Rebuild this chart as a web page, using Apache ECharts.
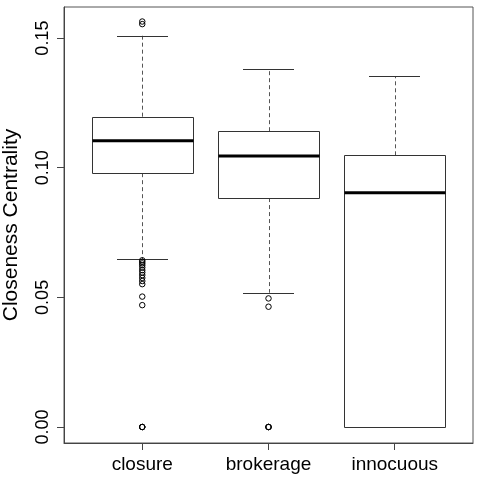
<!DOCTYPE html>
<html>
<head>
<meta charset="utf-8">
<script src="https://cdn.jsdelivr.net/npm/echarts@6/dist/echarts.min.js"></script>
<style>html,body{margin:0;padding:0;background:#fff}#c{width:480px;height:480px}</style>
</head>
<body>
<div id="c"></div>
<script>
const categories = ['closure', 'brokerage', 'innocuous'];
const whiskerLow = [0.0647, 0.0518, 0.0];
const q1 = [0.0979, 0.0883, 0.0];
const median = [0.1104, 0.1045, 0.0904];
const q3 = [0.1197, 0.1141, 0.1048];
const whiskerHigh = [0.1509, 0.1380, 0.1352];
const outClosure = [0.1564, 0.1554, 0.0643, 0.0637, 0.0631, 0.0624, 0.0615, 0.0605, 0.0596, 0.0586, 0.0575, 0.0563, 0.0551, 0.0503, 0.0470, 0, 0, 0];
const outBrokerage = [0.0496, 0.0464, 0, 0, 0];
const outInnocuous = [];
const yTicks = [0, 0.05, 0.10, 0.15];
const yTitle = 'Closeness Centrality';

const boxData = categories.map((c, i) => [i + 1, whiskerLow[i], q1[i], median[i], q3[i], whiskerHigh[i]]);
const outData = [];
[outClosure, outBrokerage, outInnocuous].forEach((arr, i) => arr.forEach(v => outData.push([i + 1, v])));

const chart = echarts.init(document.getElementById('c'), null, {renderer: 'canvas'});
const FONT = '"Liberation Sans", Arial, Helvetica, sans-serif';
chart.setOption({
  animation: false,
  backgroundColor: '#fff',
  grid: {left: 64, right: 7, top: 7, bottom: 37, show: true, borderColor: '#555', borderWidth: 1, backgroundColor: 'transparent', containLabel: false, outerBoundsMode: 'none'},
  xAxis: {
    type: 'value', min: 0.38, max: 3.62,
    splitLine: {show: false},
    axisLine: {show: true, onZero: false, lineStyle: {color: '#444', width: 1}},
    axisTick: {show: true, length: 7, lineStyle: {color: '#444'}, customValues: [1, 2, 3]},
    axisLabel: {customValues: [1, 2, 3], formatter: v => categories[Math.round(v) - 1] || '', color: '#000', fontSize: 19, fontFamily: FONT, margin: 12}
  },
  yAxis: {
    type: 'value', min: -0.00617, max: 0.1620,
    splitLine: {show: false},
    axisLine: {show: true, onZero: false, lineStyle: {color: '#444', width: 1}},
    axisTick: {show: true, length: 7, lineStyle: {color: '#444'}, customValues: yTicks},
    axisLabel: {customValues: yTicks, formatter: v => v.toFixed(2), rotate: 90, color: '#000', fontSize: 18, fontFamily: FONT, margin: 12},
    name: yTitle, nameLocation: 'middle', nameGap: 42, nameRotate: 90, nameMoveOverlap: false,
    nameTextStyle: {color: '#000', fontSize: 21, fontFamily: FONT}
  },
  series: [
    {
      type: 'custom',
      data: boxData,
      encode: {x: 0, y: [1, 2, 3, 4, 5]},
      renderItem: function (params, api) {
        const x = api.value(0);
        const lo = api.coord([x, api.value(1)]);
        const b1 = api.coord([x, api.value(2)]);
        const md = api.coord([x, api.value(3)]);
        const b3 = api.coord([x, api.value(4)]);
        const hi = api.coord([x, api.value(5)]);
        const left = api.coord([x - 0.4, 0])[0];
        const right = api.coord([x + 0.4, 0])[0];
        const cl = api.coord([x - 0.2, 0])[0];
        const cr = api.coord([x + 0.2, 0])[0];
        const cx = Math.round(lo[0]) + 0.5;
        const L = Math.round(left) + 0.5, R = Math.round(right) + 0.5;
        const dash = {stroke: '#555', lineWidth: 1, lineDash: [4, 3]};
        const solid = {stroke: '#333', lineWidth: 1};
        return {
          type: 'group',
          children: [
            {type: 'line', shape: {x1: cx, y1: b3[1], x2: cx, y2: hi[1]}, style: dash},
            {type: 'line', shape: {x1: cx, y1: b1[1], x2: cx, y2: lo[1]}, style: dash},
            {type: 'line', shape: {x1: Math.round(cl), y1: Math.round(hi[1]) + 0.5, x2: Math.round(cr), y2: Math.round(hi[1]) + 0.5}, style: solid},
            {type: 'line', shape: {x1: Math.round(cl), y1: Math.round(lo[1]) + 0.5, x2: Math.round(cr), y2: Math.round(lo[1]) + 0.5}, style: solid},
            {type: 'rect', shape: {x: L, y: Math.round(b3[1]) + 0.5, width: R - L, height: Math.round(b1[1]) - Math.round(b3[1])}, style: {fill: '#fff', stroke: '#333', lineWidth: 1}},
            {type: 'line', shape: {x1: L, y1: md[1], x2: R, y2: md[1]}, style: {stroke: '#000', lineWidth: 3}}
          ]
        };
      },
      z: 2
    },
    {
      type: 'scatter',
      data: outData,
      symbol: 'circle',
      symbolSize: 5.5,
      itemStyle: {color: 'rgba(0,0,0,0)', borderColor: '#000', borderWidth: 1, opacity: 1},
      z: 3
    }
  ]
});
</script>
</body>
</html>
